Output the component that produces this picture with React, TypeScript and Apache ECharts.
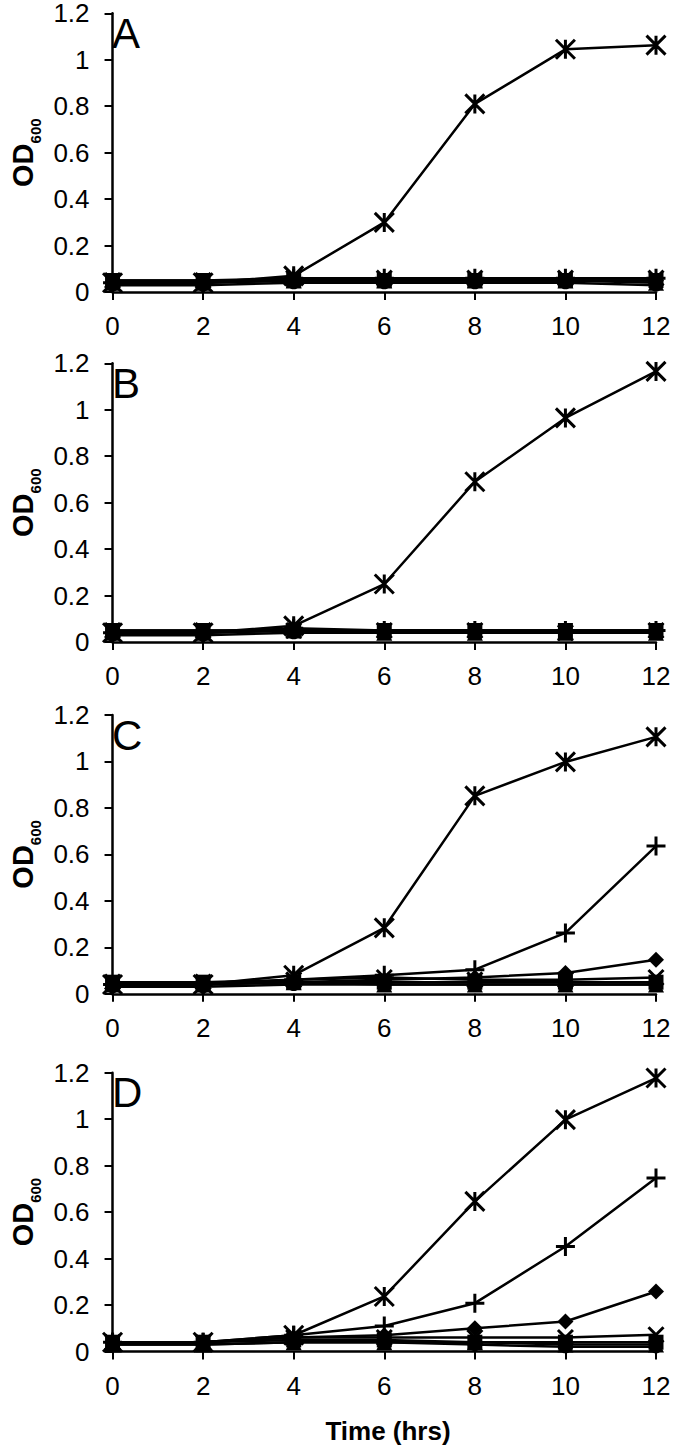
import React, { useEffect, useRef } from "react";
import * as echarts from "echarts";

const hours = [0, 2, 4, 6, 8, 10, 12];
const yTicks = [0, 0.2, 0.4, 0.6, 0.8, 1, 1.2];
const panelLetters = ["A", "B", "C", "D"];

// Panel A
const aAsterisk = [0.04, 0.04, 0.07, 0.3, 0.81, 1.045, 1.063];
const aPlus = [0.04, 0.04, 0.06, 0.06, 0.06, 0.06, 0.06];
const aDiamond = [0.04, 0.04, 0.05, 0.05, 0.05, 0.05, 0.05];
const aSquare = [0.05, 0.05, 0.05, 0.05, 0.05, 0.05, 0.05];
const aTriangle = [0.04, 0.04, 0.05, 0.05, 0.05, 0.05, 0.04];
const aCross = [0.05, 0.05, 0.06, 0.06, 0.06, 0.06, 0.06];
const aCircle = [0.03, 0.03, 0.04, 0.04, 0.04, 0.04, 0.03];

// Panel B
const bAsterisk = [0.04, 0.04, 0.07, 0.25, 0.69, 0.965, 1.165];
const bPlus = [0.04, 0.04, 0.06, 0.05, 0.05, 0.05, 0.05];
const bDiamond = [0.04, 0.04, 0.05, 0.05, 0.05, 0.05, 0.05];
const bSquare = [0.05, 0.05, 0.05, 0.05, 0.05, 0.05, 0.05];
const bTriangle = [0.04, 0.04, 0.05, 0.04, 0.04, 0.04, 0.04];
const bCross = [0.05, 0.05, 0.05, 0.05, 0.05, 0.04, 0.05];
const bCircle = [0.03, 0.03, 0.04, 0.04, 0.04, 0.04, 0.04];

// Panel C
const cAsterisk = [0.04, 0.04, 0.08, 0.284, 0.852, 0.998, 1.106];
const cPlus = [0.04, 0.04, 0.06, 0.08, 0.104, 0.262, 0.636];
const cDiamond = [0.04, 0.04, 0.05, 0.06, 0.07, 0.09, 0.147];
const cSquare = [0.05, 0.05, 0.05, 0.05, 0.05, 0.05, 0.05];
const cTriangle = [0.04, 0.04, 0.05, 0.04, 0.04, 0.04, 0.04];
const cCross = [0.05, 0.05, 0.06, 0.07, 0.06, 0.06, 0.07];
const cCircle = [0.03, 0.03, 0.04, 0.04, 0.04, 0.04, 0.04];

// Panel D
const dAsterisk = [0.04, 0.04, 0.07, 0.237, 0.646, 0.998, 1.177];
const dPlus = [0.04, 0.04, 0.07, 0.11, 0.208, 0.452, 0.747];
const dDiamond = [0.04, 0.04, 0.06, 0.07, 0.1, 0.129, 0.258];
const dSquare = [0.04, 0.04, 0.05, 0.05, 0.04, 0.04, 0.04];
const dTriangle = [0.03, 0.03, 0.04, 0.04, 0.04, 0.03, 0.03];
const dCross = [0.04, 0.04, 0.06, 0.06, 0.06, 0.06, 0.072];
const dCircle = [0.03, 0.03, 0.04, 0.04, 0.03, 0.02, 0.02];

const panels = [
  { diamond: aDiamond, square: aSquare, triangle: aTriangle, cross: aCross, circle: aCircle, plus: aPlus, asterisk: aAsterisk },
  { diamond: bDiamond, square: bSquare, triangle: bTriangle, cross: bCross, circle: bCircle, plus: bPlus, asterisk: bAsterisk },
  { diamond: cDiamond, square: cSquare, triangle: cTriangle, cross: cCross, circle: cCircle, plus: cPlus, asterisk: cAsterisk },
  { diamond: dDiamond, square: dSquare, triangle: dTriangle, cross: dCross, circle: dCircle, plus: dPlus, asterisk: dAsterisk },
];

const SANS = '"Liberation Sans", Arial, sans-serif';

const gridTops = [13.3, 363.3, 715, 1072.7];
const gridHeight = 278.8;

const SYM: Record<string, { symbol: string; size: number; stroke: boolean }> = {
  diamond: { symbol: "diamond", size: 16, stroke: false },
  square: { symbol: "rect", size: 15, stroke: false },
  triangle: { symbol: "triangle", size: 16, stroke: false },
  cross: { symbol: "path://M0,0L10,10M10,0L0,10", size: 15, stroke: true },
  circle: { symbol: "circle", size: 13, stroke: false },
  plus: { symbol: "path://M5,0L5,10M0,5L10,5", size: 19, stroke: true },
  asterisk: { symbol: "path://M0,0L10,10M10,0L0,10M5,0L5,10", size: 19, stroke: true },
};
const order = ["circle", "triangle", "square", "cross", "diamond", "plus", "asterisk"];

export default function App() {
  const ref = useRef<HTMLDivElement>(null);
  useEffect(() => {
    if (!ref.current) return;
    const chart = echarts.init(ref.current, null, { renderer: "svg" });
    const grid: any[] = [];
    const xAxis: any[] = [];
    const yAxis: any[] = [];
    const series: any[] = [];
    const graphic: any[] = [];
    panels.forEach((p: any, i) => {
      grid.push({ left: 100, right: 18, top: gridTops[i], height: gridHeight });
      xAxis.push({
        type: "value",
        gridIndex: i,
        min: 0,
        max: 12,
        interval: 2,
        axisLine: { lineStyle: { color: "#000", width: 2.5 } },
        axisTick: { show: true, inside: false, length: 8, lineStyle: { color: "#000", width: 2 } },
        axisLabel: { color: "#000", fontSize: 26, fontFamily: SANS, margin: 21 },
        splitLine: { show: false },
      });
      yAxis.push({
        type: "value",
        gridIndex: i,
        min: 0,
        max: 1.2,
        interval: 0.2,
        axisLine: { show: true, lineStyle: { color: "#000", width: 2.5 } },
        axisTick: { show: true, inside: false, length: 8, lineStyle: { color: "#000", width: 2 } },
        axisLabel: {
          color: "#000",
          fontSize: 26,
          lineHeight: 20,
          fontFamily: SANS,
          margin: 23,
          formatter: (v: number) => {
            const t = yTicks.find((k) => Math.abs(k - v) < 1e-6);
            return t === undefined ? "" : String(t);
          },
        },
        splitLine: { show: false },
        name: "{a|OD}{b|600}",
        nameLocation: "middle",
        nameGap: 62,
        nameTextStyle: {
          color: "#000",
          rich: {
            a: { fontSize: 29, fontWeight: "bold", fontFamily: SANS, color: "#000", lineHeight: 40, verticalAlign: "middle" },
            b: { fontSize: 15, fontWeight: "bold", fontFamily: SANS, color: "#000", lineHeight: 20, verticalAlign: "bottom" },
          },
        },
      });
      order.forEach((k) => {
        const s = SYM[k];
        series.push({
          type: "line",
          name: k,
          xAxisIndex: i,
          yAxisIndex: i,
          data: hours.map((h, j) => [h, p[k][j]]),
          symbol: s.symbol,
          symbolSize: s.size,
          showSymbol: true,
          lineStyle: { color: "#000", width: 2.5 },
          itemStyle: s.stroke
            ? { color: "#000", borderColor: "#000", borderWidth: 3 }
            : { color: "#000", borderWidth: 0 },
          z: 3,
        });
      });
      graphic.push({
        type: "text",
        left: 112,
        top: gridTops[i] - 1,
        style: { text: panelLetters[i], fontSize: 42, fontFamily: SANS, fill: "#000" },
      });
    });
    graphic.push({
      type: "text",
      x: 388,
      y: 1431,
      style: {
        text: "Time (hrs)",
        fontSize: 26,
        fontWeight: "bold",
        fontFamily: SANS,
        fill: "#000",
        align: "center",
        verticalAlign: "middle",
      },
    });
    chart.setOption({
      animation: false,
      backgroundColor: "#fff",
      textStyle: { fontFamily: SANS },
      grid,
      xAxis,
      yAxis,
      series,
      graphic,
    });
    return () => chart.dispose();
  }, []);
  return <div ref={ref} style={{ position: "absolute", left: 0, top: 0, width: 674, height: 1447 }} />;
}
